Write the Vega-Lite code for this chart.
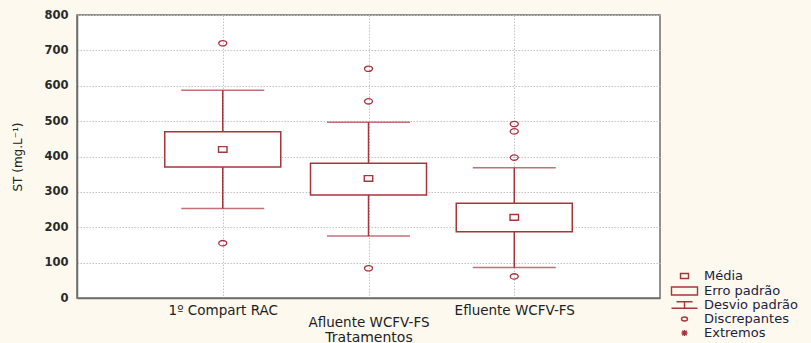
{
  "$schema": "https://vega.github.io/schema/vega-lite/v6.json",
  "width": 583,
  "height": 283,
  "autosize": {"type": "none"},
  "padding": {"left": 77, "top": 15, "right": 151, "bottom": 45},
  "background": "#fdf9ef",
  "datasets": {
    "stats": [
      {"trat": "1º Compart RAC", "wlo": 253, "whi": 587, "blo": 370, "bhi": 470, "media": 420},
      {"trat": "Afluente WCFV-FS", "wlo": 175, "whi": 497, "blo": 291, "bhi": 381, "media": 338},
      {"trat": "Efluente WCFV-FS", "wlo": 86, "whi": 368, "blo": 187, "bhi": 268, "media": 228}
    ],
    "outliers": [
      {"trat": "1º Compart RAC", "valor": 720, "tipo": "Discrepantes"},
      {"trat": "1º Compart RAC", "valor": 155, "tipo": "Discrepantes"},
      {"trat": "Afluente WCFV-FS", "valor": 648, "tipo": "Discrepantes"},
      {"trat": "Afluente WCFV-FS", "valor": 556, "tipo": "Discrepantes"},
      {"trat": "Afluente WCFV-FS", "valor": 84, "tipo": "Discrepantes"},
      {"trat": "Efluente WCFV-FS", "valor": 492, "tipo": "Discrepantes"},
      {"trat": "Efluente WCFV-FS", "valor": 471, "tipo": "Discrepantes"},
      {"trat": "Efluente WCFV-FS", "valor": 397, "tipo": "Discrepantes"},
      {"trat": "Efluente WCFV-FS", "valor": 61, "tipo": "Discrepantes"}
    ]
  },
  "encoding": {
    "x": {
      "field": "trat",
      "type": "nominal",
      "sort": null,
      "scale": {"type": "point", "padding": 1, "domain": ["1º Compart RAC", "Afluente WCFV-FS", "Efluente WCFV-FS"]},
      "axis": {
        "title": "Tratamentos",
        "labelAngle": 0,
        "labelExpr": "datum.value == 'Afluente WCFV-FS' ? ['', datum.value] : datum.value",
        "labelLineHeight": 12,
        "labelBaseline": "top",
        "labelPadding": 5,
        "labelOverlap": false,
        "ticks": false,
        "tickSize": 0,
        "grid": true,
        "gridDash": [1.5, 1.5],
        "gridColor": "#c4c4c4",
        "gridWidth": 1,
        "domainColor": "#6e6e6e",
        "domainWidth": 1.5,
        "labelFont": "DejaVu Sans",
        "labelFontSize": 13.5,
        "labelColor": "#222222",
        "titleFont": "DejaVu Sans",
        "titleFontSize": 14,
        "titleFontWeight": "normal",
        "titleColor": "#222222",
        "titleY": 39,
        "titleBaseline": "middle"
      }
    },
    "y": {
      "field": "wlo",
      "type": "quantitative",
      "scale": {"domain": [0, 800], "nice": false},
      "axis": {
        "tickCount": 8,
        "labelOverlap": false,
        "labelFlush": false,
        "labelBound": false,
        "title": "ST (mg.L⁻¹)",
        "ticks": false,
        "tickSize": 0,
        "labelPadding": 9,
        "grid": true,
        "gridDash": [1.5, 1.5],
        "gridColor": "#c4c4c4",
        "gridWidth": 1,
        "domainColor": "#6e6e6e",
        "domainWidth": 1.5,
        "labelFont": "DejaVu Sans",
        "labelFontSize": 11.5,
        "labelFontWeight": "bold",
        "labelColor": "#2a2a2a",
        "titleFont": "DejaVu Sans",
        "titleFontSize": 12,
        "titleFontWeight": "normal",
        "titleColor": "#222222",
        "titleX": -60,
        "titleY": 141.5,
        "titleBaseline": "middle",
        "titleAngle": 270
      }
    }
  },
  "layer": [
    {
      "data": {"name": "stats"},
      "mark": {"type": "rule", "color": "#a8343c", "strokeWidth": 1.5},
      "encoding": {
        "y2": {"field": "whi"}
      }
    },
    {
      "data": {"name": "stats"},
      "mark": {"type": "tick", "color": "#a8343c", "size": 83, "thickness": 1.5},
      "encoding": {"y": {"field": "whi", "type": "quantitative"}}
    },
    {
      "data": {"name": "stats"},
      "mark": {"type": "tick", "color": "#a8343c", "size": 83, "thickness": 1.5},
      "encoding": {}
    },
    {
      "data": {"name": "stats"},
      "mark": {"type": "bar", "size": 116, "fill": "white", "stroke": "#a8343c", "strokeWidth": 1.5},
      "encoding": {
        "y": {"field": "blo", "type": "quantitative"},
        "y2": {"field": "bhi"}
      }
    },
    {
      "data": {"name": "stats"},
      "mark": {"type": "point", "shape": "M-1,-0.67H1V0.67H-1Z", "size": 72, "filled": false, "stroke": "#a8343c", "strokeWidth": 1.4, "opacity": 1},
      "encoding": {"y": {"field": "media", "type": "quantitative"}}
    },
    {
      "data": {"name": "outliers"},
      "mark": {"type": "point", "size": 178, "filled": false, "color": "#a8343c", "stroke": "#a8343c", "strokeWidth": 1.3, "opacity": 1},
      "encoding": {
        "y": {"field": "valor", "type": "quantitative"},
        "shape": {
          "field": "tipo",
          "type": "nominal",
          "scale": {
            "domain": ["Média", "Erro padrão", "Desvio padrão", "Discrepantes", "Extremos"],
            "range": [
              "M-0.8,-0.5H0.8V0.5H-0.8Z",
              "M-2.6,-0.8H2.6V0.8H-2.6Z",
              "M-1.6,-0.65H1.6M0,-0.65V0.65M-2.6,0.65H2.6",
              "M-0.6,0A0.6,0.4 0 1,0 0.6,0A0.6,0.4 0 1,0 -0.6,0Z",
              "M-0.6,0H0.6M0,-0.6V0.6M-0.45,-0.45L0.45,0.45M-0.45,0.45L0.45,-0.45"
            ]
          },
          "legend": {
            "title": null,
            "orient": "none",
            "legendX": 601,
            "legendY": 254.5,
            "padding": 0,
            "symbolSize": 100,
            "symbolStrokeColor": "#a8343c",
            "symbolFillColor": "transparent",
            "symbolStrokeWidth": 1.4,
            "labelFont": "DejaVu Sans",
            "labelFontSize": 13,
            "labelColor": "#1c2340",
            "rowPadding": 0,
            "labelOffset": 13
          }
        }
      }
    }
  ],
  "config": {
    "view": {"fill": "white", "stroke": "#6e6e6e", "strokeWidth": 1.5},
    "axisY": {"labelOverlap": false}
  }
}
